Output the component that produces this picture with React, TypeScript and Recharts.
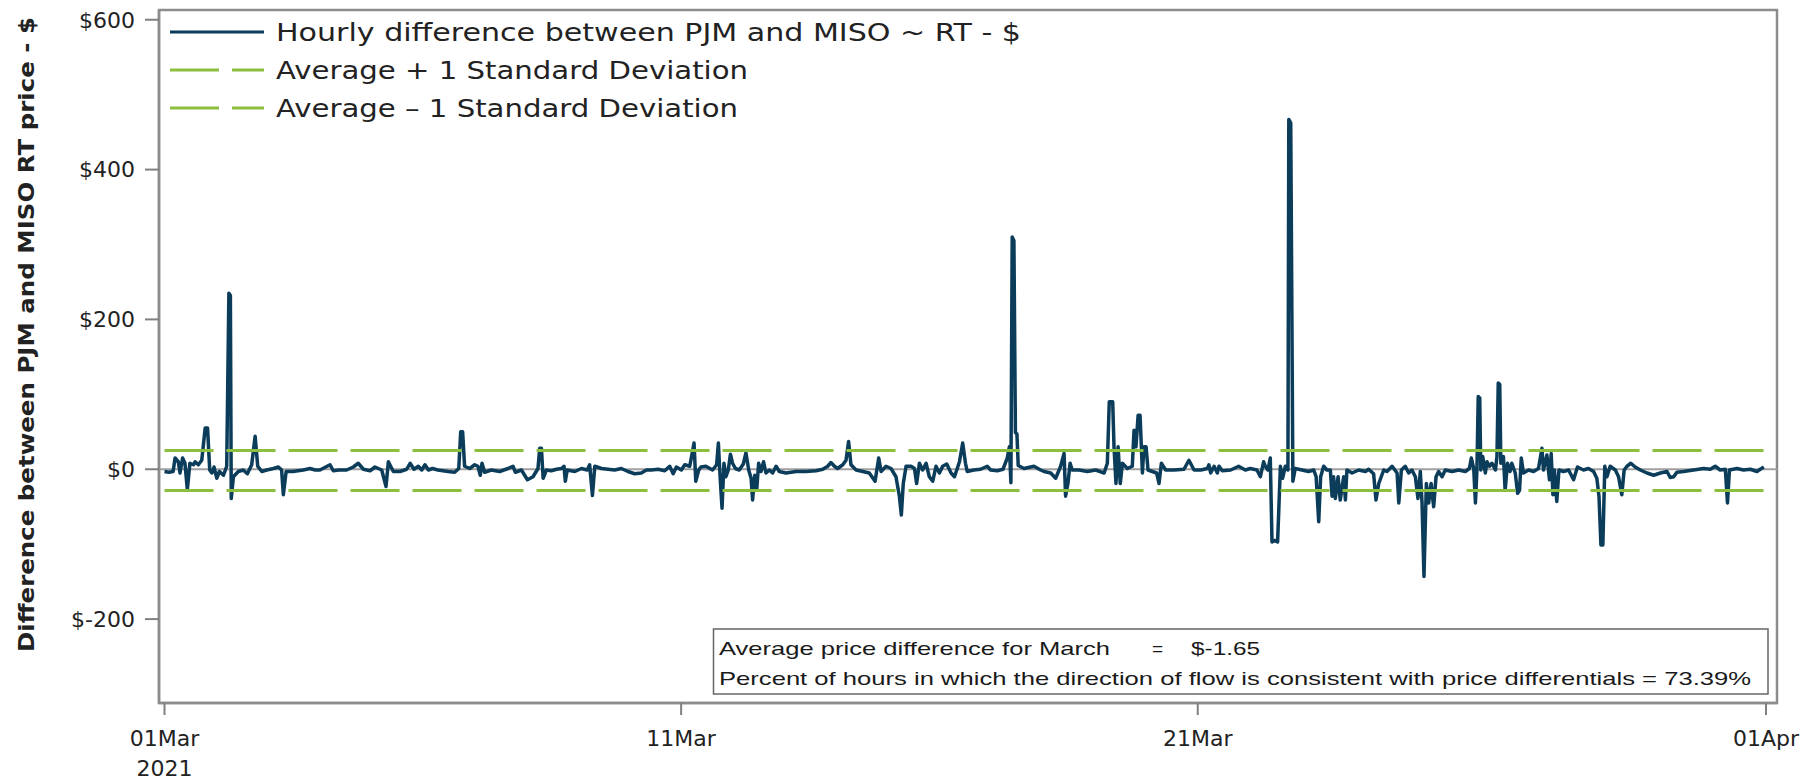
import React from 'react';
import { LineChart, Line, XAxis, YAxis, ReferenceArea } from 'recharts';

// hour of month (0 = 01Mar 00:00) and PJM - MISO RT price difference
const hours = [
  0, 2, 4, 4.9, 6.4, 7.2, 8.4, 9.5, 10.6, 11.8, 13.4, 14.2, 15.7, 17.3, 18.9, 20, 21, 22, 23, 24.3,
  25.5, 27.4, 28.9, 29.9, 30.6, 31, 32, 34.3, 36.6, 38.5, 40.5, 42.1, 43.3, 45.2, 47.5, 50.6, 52.9, 54.4, 55.2, 56.5,
  59.8, 62, 64.5, 67.6, 70, 72.2, 76.9, 78.4, 81, 84.6, 87.7, 90, 92.4, 95.5, 97.8, 100.9, 102.9, 104, 106.3, 109.4,
  112.5, 114.1, 115.9, 117.9, 119.5, 121, 122.6, 124.5, 127, 131.7, 134.8, 136.7, 137.6, 138.5, 139.4, 141.8, 144.1, 145.6, 146.7, 147.5,
  148.7, 151.8, 155.7, 159.6, 161.9, 163, 165.8, 168.6, 171.2, 173.5, 174.3, 175.1, 175.9, 177.4, 179.7, 182.1, 184.4, 185.6, 186.2, 187.1,
  190.6, 193.7, 196.4, 197.5, 198.8, 199.9, 203, 206, 209.1, 212.2, 215.3, 218.4, 221.5, 223.9, 226.2, 229.3, 232.4, 234.7, 236.3, 237.8,
  240.1, 241.7, 244, 246, 246.8, 248.2, 249.2, 251.5, 254.6, 256.5, 257.3, 258.1, 259, 259.9, 260.8, 261.9, 262.9, 263.9, 265.2, 267,
  268.9, 270.1, 271.4, 272.5, 273.2, 274.2, 275.1, 276, 277.1, 278.3, 279.4, 281, 282.5, 284.1, 285.6, 288.7, 293.4, 298, 302.7, 305.8,
  308.1, 309.6, 311.2, 312.7, 315.1, 316.6, 317.8, 318.9, 321.3, 324.4, 327.4, 330.1, 331.8, 332.9, 335.2, 337.5, 339.8, 341.4, 342.3, 343.2,
  344.5, 346.8, 348.4, 349.4, 350.7, 352.2, 353.8, 355.3, 356.9, 358.4, 360, 361.5, 363.4, 365.4, 367, 369.3, 370.8, 372.1, 372.9, 376,
  379.1, 382.2, 383.8, 386.9, 389.5, 391.5, 392.5, 393.2, 393.8, 394.6, 395.3, 396, 396.6, 399.3, 403.9, 407, 408.6, 411.7, 414, 416.3,
  417.9, 418.6, 419.7, 420.7, 421.7, 424.9, 428.7, 432.6, 436.5, 438, 438.9, 440.5, 441.1, 442, 443, 444, 445, 447.3, 449.6, 450.4,
  451.3, 452.3, 453.2, 454.3, 455, 456, 456.9, 458.9, 460.9, 462, 463.1, 465.1, 469, 473.6, 475.9, 478.3, 481.4, 484.5, 485.2, 486,
  487.6, 489.1, 489.9, 491.4, 495.3, 499, 502.1, 504.4, 507.5, 509.1, 510.6, 511.4, 512.6, 513.7, 514.5, 515.7, 517.1, 518.4, 519.4, 520.7,
  521.9, 522.3, 523.2, 524.2, 525.3, 528.4, 531.5, 533.9, 535, 536.2, 537.1, 538.5, 540, 541.6, 542.4, 543.1, 543.9, 545.2, 546.2, 547.8,
  548.6, 549.3, 551.7, 554.8, 557.9, 559.4, 561.7, 562.8, 564.1, 566.4, 567.9, 570.3, 572.6, 573.4, 574.6, 576.4, 578, 579.5, 581.1, 582.3,
  583.4, 584.2, 585.1, 586.2, 587.3, 588.4, 589.6, 590.7, 591.9, 593.5, 595, 598.1, 601.2, 604.3, 606.2, 607.1, 608.2, 609, 609.7, 610.3,
  611, 611.5, 612.4, 613.6, 614.4, 615.5, 616.7, 618.3, 619, 619.6, 620.3, 620.8, 622, 622.8, 623.9, 625.1, 625.9, 627.5, 628.6, 629.5,
  630.3, 631.3, 633.7, 636, 638.3, 639.9, 640.6, 642.2, 643.4, 644.2, 645, 645.7, 646.8, 647.8, 649.9, 652.3, 654.6, 656.4, 659.2, 661.5,
  663.9, 665.4, 666.4, 667.3, 668.2, 669.1, 670.1, 671.6, 674, 675.5, 677, 678.1, 679.4, 681.2, 683.2, 685.6, 688.7, 691.8, 694.9, 698,
  699.5, 701.1, 702.6, 705.7, 710.3, 715, 718.1, 720.4, 722.7, 725.1, 726.1, 727, 730.5, 733.6, 736.7, 739.8, 741.3, 743,
];

const diffs = [
  -3, -4, -3, 15, 10, -5, 15, 8, -27, 8, 6, 10, 6, 12, 55, 55, -1, -5, 3, -12,
  -3, -8, 4, 235, 232, -39, -10, -3, -1, -6, 6, 44, 4, -3, -1, 1, 3, -1, -34, -3,
  -3, -2, -1, 1, -1, -1, 6, -2, -1, -1, 3, 8, 0, -2, 3, -1, -23, 10, -3, -3,
  0, 8, 0, 4, -1, 6, -1, 1, -1, -3, -4, 1, 50, 50, 4, 1, 6, 4, -8, 8,
  -4, -1, -3, 1, 4, -4, -1, -14, -10, 1, 28, 28, -12, -1, -2, 0, 1, 4, -16, -1,
  -3, 1, -1, 6, -35, 4, 1, 0, -1, 1, -3, -6, -5, -1, -1, 0, -2, 4, -6, 3,
  -1, 6, 4, 35, -16, -1, 3, 4, -1, 6, 35, -10, -52, 8, -10, -1, 20, 8, 1, -1,
  7, 22, -1, -12, -41, -8, -28, 8, -3, 10, -5, -1, -5, 4, -3, -5, -3, -3, -2, 0,
  4, 9, 4, 1, 6, 12, 37, 6, -1, -3, -5, -16, 15, -3, 4, 1, -10, -36, -61, -19,
  4, 4, 1, -19, 8, -1, 8, -10, -16, 4, -5, 4, 7, -5, -10, 10, 35, 8, -3, -1,
  0, 4, -1, -2, 0, 15, 30, -18, 310, 305, 49, 47, 5, 1, 4, -1, -3, -5, -12, 4,
  21, -36, -19, 8, -1, -1, -3, -1, -5, 8, 90, 90, 30, -19, 30, -19, 8, 1, 4, 52,
  30, 72, 72, -5, 30, 30, -1, -3, -5, -19, 8, -1, -1, 0, 12, -1, -1, 1, 6, -5,
  4, -5, 4, -2, -1, 4, -1, 1, -1, -10, 10, 4, -1, 15, -97, -95, -97, 4, -12, 4,
  -1, 467, 462, -16, 1, -1, -3, -1, -10, -70, -10, 4, -1, -1, -36, -10, -39, -10, -41, -10,
  -41, -1, -5, -1, -3, 0, -6, -41, -19, -1, -3, 4, -5, -45, -1, 4, -5, -1, -10, -39,
  -3, -45, -143, -19, -45, -19, -50, -10, -3, -10, -1, -3, -1, -3, 1, 15, 1, -45, -1, 97,
  95, -1, 17, -5, 10, 4, 8, -1, 17, 115, 113, 8, 17, -28, 8, -3, 8, -5, -32, -28,
  15, -5, -1, -3, 1, 28, -1, 19, -14, 21, -34, -1, -43, -1, -3, -1, -14, 3, -1, 1,
  -3, -12, -36, -101, -101, 4, -10, 4, -1, -10, -34, -1, 4, 8, 3, -1, -5, -8, -5, -3,
  -11, -10, -4, -3, -1, 1, 0, 4, -1, 0, -45, -1, 1, -1, 0, -3, 0, 3,
];

const avgDiff = -1.65;
const stdDev = 26.6;
const lastHour = 743;

const xTicks = [0, 240, 480, 744];
const xTickLabels = ['01Mar', '11Mar', '21Mar', '01Apr'];
const yearLabel = '2021';
const yTicks = [-200, 0, 200, 400, 600];

const legendLabels = [
  'Hourly difference between PJM and MISO ~ RT - $',
  'Average + 1 Standard Deviation',
  'Average \u2013 1 Standard Deviation',
];
const yTitle = 'Difference between PJM and MISO RT price - $';
const noteLabel = 'Average price difference for March';
const noteValue = '$-1.65';
const noteFlow = 'Percent of hours in which the direction of flow is consistent with price differentials =  73.39%';

const NAVY = '#0b3c5a';
const GREEN = '#8dbf3f';
const FONT = '"DejaVu Sans", sans-serif';

const xDomain: [number, number] = [-2.56, 749.1];
const yDomain: [number, number] = [-312, 613];

const series = hours.map((h, i) => ({ h, v: diffs[i] }));
const upperBand = [{ h: 0, v: avgDiff + stdDev }, { h: lastHour, v: avgDiff + stdDev }];
const lowerBand = [{ h: 0, v: avgDiff - stdDev }, { h: lastHour, v: avgDiff - stdDev }];
const zeroLine = [{ h: xDomain[0], v: 0 }, { h: xDomain[1], v: 0 }];

const XTick = (props: any) => {
  const { x, y, payload } = props;
  const idx = xTicks.indexOf(payload.value);
  return (
    <g>
      <text x={x} y={y + 31} textAnchor="middle" fontSize={22} fontFamily={FONT} fill="#222">
        {xTickLabels[idx]}
      </text>
      {idx === 0 && (
        <text x={x} y={y + 61} textAnchor="middle" fontSize={22} fontFamily={FONT} fill="#222">
          {yearLabel}
        </text>
      )}
    </g>
  );
};

export default function App() {
  return (
    <div style={{ position: 'relative', width: 1803, height: 780, background: '#fff' }}>
      <style>{'body{margin:0}'}</style>
      <LineChart width={1803} height={780} margin={{ top: 10, right: 26, left: 0, bottom: 0 }}>
        <XAxis
          type="number"
          dataKey="h"
          domain={xDomain}
          ticks={xTicks}
          allowDataOverflow
          height={77}
          tickSize={12}
          tickMargin={0}
          axisLine={{ stroke: '#8c8c8c', strokeWidth: 2.5 }}
          tickLine={{ stroke: '#808080', strokeWidth: 2 }}
          tick={<XTick />}
        />
        <YAxis
          type="number"
          dataKey="v"
          domain={yDomain}
          ticks={yTicks}
          allowDataOverflow
          width={159}
          tickSize={14}
          tickMargin={10}
          tickFormatter={(v: number) => `$${v}`}
          axisLine={{ stroke: '#8c8c8c', strokeWidth: 2.5 }}
          tickLine={{ stroke: '#808080', strokeWidth: 2 }}
          tick={{ fontSize: 22, fontFamily: FONT, fill: '#222' }}
        />
        <ReferenceArea
          x1={xDomain[0]}
          x2={xDomain[1]}
          y1={yDomain[0]}
          y2={yDomain[1]}
          fill="none"
          fillOpacity={0}
          stroke="#8c8c8c"
          strokeWidth={2.5}
        />
        <Line data={zeroLine} dataKey="v" stroke="#a0a0a0" strokeWidth={2} dot={false} isAnimationActive={false} />
        <Line
          data={series}
          dataKey="v"
          type="linear"
          stroke={NAVY}
          strokeWidth={3.5}
          strokeLinejoin="round"
          dot={false}
          isAnimationActive={false}
        />
        <Line data={upperBand} dataKey="v" stroke={GREEN} strokeWidth={3} strokeDasharray="49 13" dot={false} isAnimationActive={false} />
        <Line data={lowerBand} dataKey="v" stroke={GREEN} strokeWidth={3} strokeDasharray="49 13" dot={false} isAnimationActive={false} />
      </LineChart>

      <svg width={1803} height={780} style={{ position: 'absolute', left: 0, top: 0, pointerEvents: 'none' }}>
        {/* legend */}
        <line x1={170} x2={264} y1={32} y2={32} stroke={NAVY} strokeWidth={3} />
        <line x1={170} x2={264} y1={70} y2={70} stroke={GREEN} strokeWidth={3} strokeDasharray="49 13" />
        <line x1={170} x2={264} y1={108} y2={108} stroke={GREEN} strokeWidth={3} strokeDasharray="49 13" />
        {legendLabels.map((t, i) => (
          <text
            key={t}
            x={276}
            y={41 + i * 38}
            fontSize={25}
            fontFamily={FONT}
            fill="#222"
            textLength={[745, 472, 462][i]}
            lengthAdjust="spacingAndGlyphs"
          >
            {t}
          </text>
        ))}

        {/* y axis title */}
        <text
          x={-334.5}
          y={34}
          transform="rotate(-90)"
          textAnchor="middle"
          fontSize={21}
          fontWeight="bold"
          fontFamily={FONT}
          fill="#222"
          textLength={635}
          lengthAdjust="spacingAndGlyphs"
        >
          {yTitle}
        </text>

        {/* summary box */}
        <rect x={713.5} y={629} width={1054.5} height={65} fill="#fff" stroke="#666" strokeWidth={1.5} />
        <g fontFamily='"Liberation Sans", Arial, sans-serif' fontSize={19} fill="#1a1a1a">
          <text x={719} y={655} textLength={391} lengthAdjust="spacingAndGlyphs">{noteLabel}</text>
          <text x={1152} y={655}>=</text>
          <text x={1191} y={655} textLength={69} lengthAdjust="spacingAndGlyphs">{noteValue}</text>
          <text x={719} y={685} textLength={1032} lengthAdjust="spacingAndGlyphs">{noteFlow}</text>
        </g>
      </svg>
    </div>
  );
}
